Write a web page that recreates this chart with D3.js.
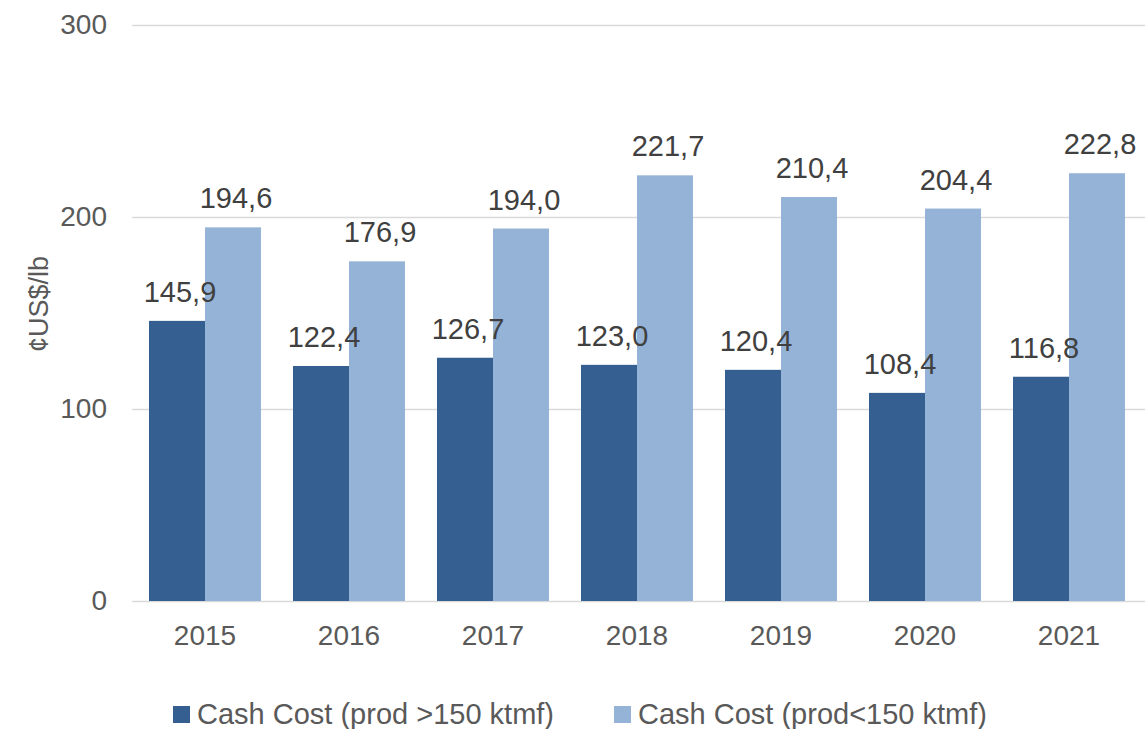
<!DOCTYPE html>
<html><head><meta charset="utf-8">
<script src="https://cdn.jsdelivr.net/npm/d3@7"></script>
<style>body{margin:0;background:#fff}svg{display:block}text{font-family:"Liberation Sans",Arial,sans-serif}</style>
</head><body><svg id="c" width="1145" height="729"></svg>
<script>
const years = ["2015","2016","2017","2018","2019","2020","2021"];
const seriesNames = ["Cash Cost (prod >150 ktmf)","Cash Cost (prod<150 ktmf)"];
const large = [145.9,122.4,126.7,123.0,120.4,108.4,116.8];
const small = [194.6,176.9,194.0,221.7,210.4,204.4,222.8];
const yTicks = [0,100,200,300];
const colors = ["#365f91","#95b3d7"];

const svg = d3.select("#c");
const x = d3.scaleBand().domain(years).range([133,1141]).paddingInner(0.2222).paddingOuter(0.1111);
const xs = d3.scaleBand().domain([0,1]).range([0,x.bandwidth()]);
const y = d3.scaleLinear().domain([0,300]).range([601,25]);
const fmt = v => d3.format(".1f")(v).replace(".", ",");

// gridlines
svg.append("g").selectAll("line").data(yTicks).join("line")
  .attr("x1",132).attr("x2",1145).attr("y1",d=>y(d)+0.5).attr("y2",d=>y(d)+0.5)
  .attr("stroke","#d9d9d9").attr("stroke-width",1.5);

// y axis labels
const ya = svg.append("g").attr("transform","translate(107,0)")
  .call(d3.axisLeft(y).tickValues(yTicks).tickSize(0).tickPadding(0));
ya.select(".domain").remove();
ya.selectAll("text").attr("font-size",28).attr("fill","#595959").attr("font-family","Liberation Sans, Arial, sans-serif");

// x axis labels
const xa = svg.append("g").attr("transform","translate(0,601)")
  .call(d3.axisBottom(x).tickSize(0).tickPadding(24));
xa.select(".domain").remove();
xa.selectAll("text").attr("font-size",28).attr("fill","#595959").attr("font-family","Liberation Sans, Arial, sans-serif");

const data = years.map((yr,i)=>({yr, vals:[large[i], small[i]]}));
const g = svg.append("g").selectAll("g").data(data).join("g")
  .attr("transform",d=>`translate(${x(d.yr)},0)`);
g.selectAll("rect").data(d=>d.vals.map((v,k)=>({v,k}))).join("rect")
  .attr("x",d=>xs(d.k)).attr("width",xs.bandwidth())
  .attr("y",d=>y(d.v)).attr("height",d=>y(0)-y(d.v))
  .attr("fill",d=>colors[d.k]);
g.selectAll("text").data(d=>d.vals.map((v,k)=>({v,k}))).join("text")
  .attr("x",d=>xs(d.k)+xs.bandwidth()/2+3).attr("y",d=>y(d.v)-19)
  .attr("text-anchor","middle").attr("font-size",29).attr("fill","#404040")
  .text(d=>fmt(d.v));

// y axis title
svg.append("text").attr("transform","translate(48,304) rotate(-90)")
  .attr("text-anchor","middle").attr("font-size",27).attr("fill","#595959").text("¢US$/lb");

// legend
const legX = [173,614];
const lg = svg.append("g").selectAll("g").data(seriesNames).join("g")
  .attr("transform",(d,i)=>`translate(${legX[i]},0)`);
lg.append("rect").attr("x",0).attr("y",706).attr("width",17).attr("height",17).attr("fill",(d,i)=>colors[i]);
lg.append("text").attr("x",24).attr("y",724).attr("font-size",29).attr("fill","#595959").text(d=>d);
</script></body></html>
